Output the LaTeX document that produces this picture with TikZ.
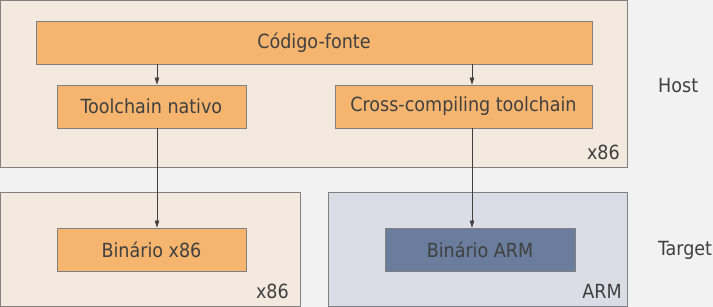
\documentclass[tikz,border=0pt]{standalone}
\usepackage{fontspec}
\setmainfont{DejaVu Sans Condensed}
\usetikzlibrary{arrows.meta,calc}

\definecolor{fundo}{HTML}{F2F2F2}
\definecolor{hostbg}{HTML}{F3E9DF}
\definecolor{armbg}{HTML}{DADDE5}
\definecolor{laranja}{HTML}{F5B56E}
\definecolor{azul}{HTML}{6A7D9D}
\definecolor{borda}{HTML}{808080}
\definecolor{texto}{HTML}{404040}

\begin{document}
\begin{tikzpicture}[
	x=1pt, y=-1pt,
	font=\fontsize{19.5}{22}\selectfont, text=texto,
	area/.style={draw=borda, line width=0.8pt},
	caixa/.style={draw=borda, line width=0.8pt, fill=laranja, inner sep=0pt},
	seta/.style={-{Triangle[length=7pt,width=4.5pt]}, color=texto, line width=0.6pt},
]
\fill[fundo] (0,0) rectangle (713,307);
\useasboundingbox (0,0) rectangle (713,307);

% areas
\draw[area, fill=hostbg] (0.5,0.5) rectangle (627,167);
\draw[area, fill=hostbg] (0.5,192) rectangle (300,306.5);
\draw[area, fill=armbg] (328,192) rectangle (627,306.5);

\node[anchor=south east, inner sep=0pt] (hx86) at (620,160) {x86};
\node[anchor=south east, inner sep=0pt] (bx86) at (289,299) {x86};
\node[anchor=south east, inner sep=0pt] (barm) at (622,299) {ARM};
\node[anchor=west, inner sep=0pt] (host) at (658,86) {Host};
\node[anchor=west, inner sep=0pt] (target) at (658,250) {Target};

% blocos
\node[caixa, minimum width=556pt, minimum height=43pt] (fonte) at (314,42.5) {Código-fonte};
\node[caixa, minimum width=189pt, minimum height=43pt] (nativo) at (151.5,106.5) {Toolchain nativo};
\node[caixa, minimum width=257pt, minimum height=43pt] (cross) at (463.5,106.5) {Cross-compiling toolchain};
\node[caixa, minimum width=189pt, minimum height=43pt] (binx86) at (151.5,249.5) {Binário x86};
\node[caixa, fill=azul, minimum width=190pt, minimum height=43pt] (binarm) at (480,249.5) {Binário ARM};

\coordinate (s1) at (157,0);
\coordinate (s2) at (472,0);

\draw[seta] (fonte.south -| s1) -- (nativo.north -| s1);
\draw[seta] (fonte.south -| s2) -- (cross.north -| s2);
\draw[seta] (nativo.south -| s1) -- (binx86.north -| s1);
\draw[seta] (cross.south -| s2) -- (binarm.north -| s2);

\end{tikzpicture}
\end{document}
